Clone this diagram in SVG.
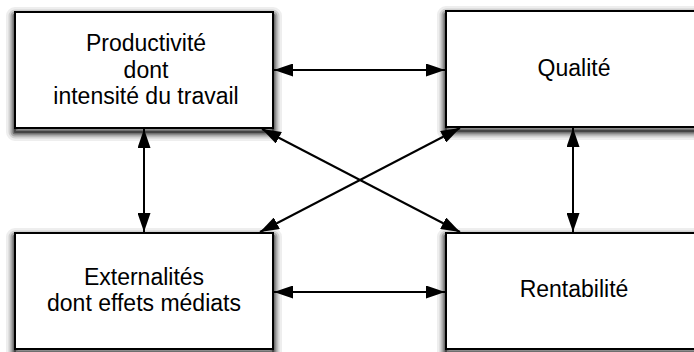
<svg xmlns="http://www.w3.org/2000/svg" width="694" height="352" viewBox="0 0 694 352">
<defs>
<marker id="ah" viewBox="0 0 19 13" refX="19" refY="6.5" markerWidth="19" markerHeight="13" markerUnits="userSpaceOnUse" orient="auto-start-reverse">
<path d="M0,0 L19,6.5 L0,13 Z" fill="#000"/>
</marker>
</defs>
<style>
.box{fill:#fff;stroke:#000;stroke-width:2}
.t{font-family:"Liberation Sans",Arial,sans-serif;font-size:23px;fill:#000;text-anchor:middle}
.c{stroke:#000;stroke-width:2;fill:none;marker-start:url(#ah);marker-end:url(#ah)}
.sh{fill:none;stroke-linejoin:round}
.a{stroke:#eeeeee;stroke-width:18}
.b{stroke:#d2d2d2;stroke-width:13}
.d{stroke:#a8a8a8;stroke-width:9}
.e{stroke:#707070;stroke-width:5}
.f{stroke:#444444;stroke-width:2}
</style>
<rect width="694" height="352" fill="#fff"/>
<g id="productivite">
<rect class="sh a" x="15" y="16" width="258" height="116"/>
<rect class="sh b" x="15" y="16" width="258" height="116"/>
<rect class="sh d" x="15" y="16" width="258" height="116"/>
<rect class="sh e" x="15" y="16" width="258" height="116"/>
<rect class="sh f" x="15" y="16" width="258" height="116"/>
<rect class="box" x="15" y="12" width="258" height="116"/>
<text class="t" x="146" y="51">Productivité</text>
<text class="t" x="146" y="77.5">dont</text>
<text class="t" x="146" y="104">intensité du travail</text>
</g>
<g id="qualite">
<rect class="sh a" x="446" y="15" width="258" height="116"/>
<rect class="sh b" x="446" y="15" width="258" height="116"/>
<rect class="sh d" x="446" y="15" width="258" height="116"/>
<rect class="sh e" x="446" y="15" width="258" height="116"/>
<rect class="sh f" x="446" y="15" width="258" height="116"/>
<rect class="box" x="446" y="11" width="258" height="116"/>
<text class="t" x="574" y="76">Qualité</text>
</g>
<g id="externalites">
<rect class="sh a" x="15" y="237" width="258" height="116"/>
<rect class="sh b" x="15" y="237" width="258" height="116"/>
<rect class="sh d" x="15" y="237" width="258" height="116"/>
<rect class="sh e" x="15" y="237" width="258" height="116"/>
<rect class="sh f" x="15" y="237" width="258" height="116"/>
<rect class="box" x="15" y="233" width="258" height="116"/>
<text class="t" x="144" y="284.5">Externalités</text>
<text class="t" x="144" y="311">dont effets médiats</text>
</g>
<g id="rentabilite">
<rect class="sh a" x="446" y="237" width="258" height="116"/>
<rect class="sh b" x="446" y="237" width="258" height="116"/>
<rect class="sh d" x="446" y="237" width="258" height="116"/>
<rect class="sh e" x="446" y="237" width="258" height="116"/>
<rect class="sh f" x="446" y="237" width="258" height="116"/>
<rect class="box" x="446" y="233" width="258" height="116"/>
<text class="t" x="574" y="297">Rentabilité</text>
</g>
<g id="connectors">
<line class="c" x1="274" y1="70" x2="445" y2="70"/>
<line class="c" x1="274" y1="292" x2="445" y2="292"/>
<line class="c" x1="144" y1="129" x2="144" y2="232"/>
<line class="c" x1="573" y1="128" x2="573" y2="232"/>
<line class="c" x1="262" y1="129" x2="460" y2="232"/>
<line class="c" x1="460" y1="128" x2="260" y2="232"/>
</g>
</svg>
